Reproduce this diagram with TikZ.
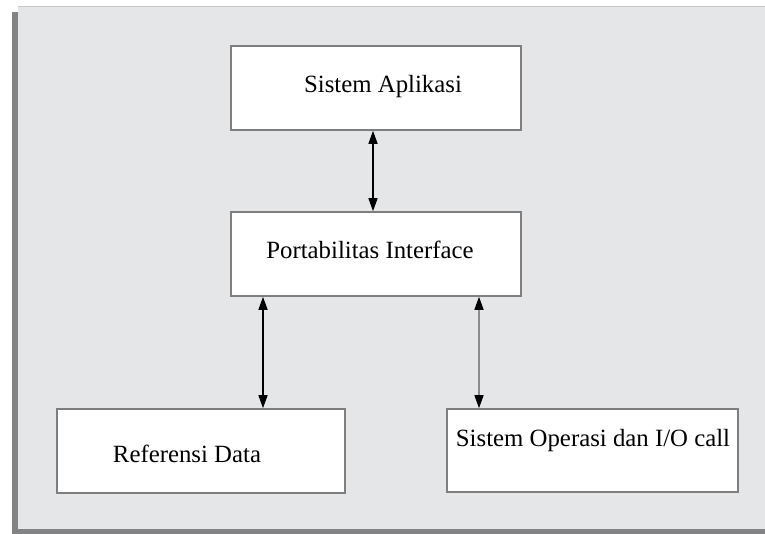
\documentclass[tikz,border=0pt]{standalone}
\usepackage{fontspec}
\setmainfont{Liberation Serif}
\usetikzlibrary{arrows.meta}
\definecolor{bggray}{HTML}{E5E6E8}
\definecolor{shadowgray}{HTML}{828384}
\definecolor{topline}{HTML}{C6C7C9}
\definecolor{boxline}{HTML}{7E7E7E}
\tikzset{
  box/.style={draw=boxline, line width=1.6pt, fill=white, inner sep=0pt},
  lbl/.style={font=\fontsize{24.8}{28}\selectfont, inner sep=0pt, text=black},
  conn/.style={line width=1.4pt, {Triangle[width=9pt,length=13pt,color=black]}-{Triangle[width=9pt,length=13pt,color=black]}},
}
\begin{document}
\begin{tikzpicture}[x=1pt,y=-1pt]
\useasboundingbox (0,0) rectangle (765,534);
\fill[white] (0,0) rectangle (765,534);
% frame shadow and background
\fill[shadowgray] (12,12) rectangle (765,534);
\fill[bggray] (18,6) rectangle (765,529);
\fill[topline] (18,6) rectangle (765,7.5);
% boxes
\node[box, minimum width=290pt, minimum height=84pt] (app) at (376,88) {};
\node[box, minimum width=290pt, minimum height=84pt] (port) at (376,254) {};
\node[box, minimum width=288pt, minimum height=84pt] (ref) at (201,451) {};
\node[box, minimum width=291pt, minimum height=83pt] (os) at (592.5,450.5) {};
% labels
\node[lbl] (tapp) at (383,87) {Sistem Aplikasi};
\node[lbl] (tport) at (370,250) {Portabilitas Interface};
\node[lbl] (tref) at (187,454) {Referensi Data};
\node[lbl] (tos) at (593,441) {Sistem Operasi dan I/O call};
% connectors
\coordinate (xm) at (373,0);
\coordinate (xl) at (263,0);
\coordinate (xr) at (479,0);
\draw[conn, black] (app.south -| xm) -- (port.north -| xm);
\draw[conn, black] (port.south -| xl) -- (ref.north -| xl);
\draw[conn, draw=gray!90] (port.south -| xr) -- (os.north -| xr);
\end{tikzpicture}
\end{document}
